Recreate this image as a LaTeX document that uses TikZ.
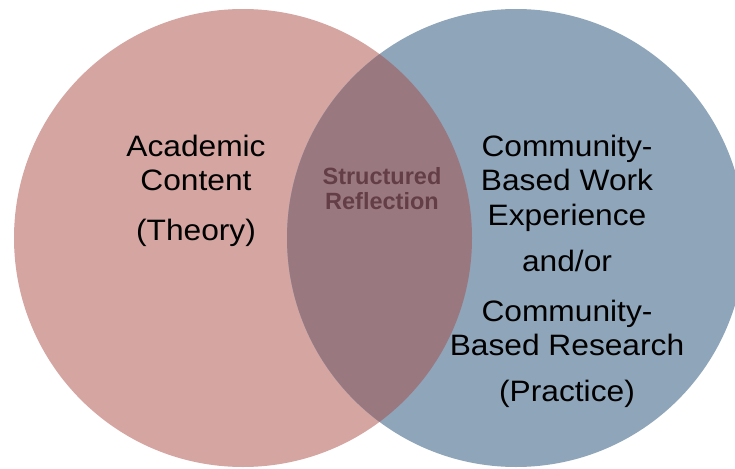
\documentclass[tikz,border=0pt]{standalone}
\usepackage{fontspec}
\setmainfont{Liberation Sans}
\newfontfamily\widefnt[FakeStretch=1.075]{Liberation Sans}
\definecolor{pinkc}{HTML}{D4A5A1}
\definecolor{bluec}{HTML}{8FA5BA}
\definecolor{lensc}{HTML}{9A7880}
\definecolor{refl}{HTML}{643E46}
\tikzset{
  mainlbl/.style={anchor=base, inner sep=0pt, text=black, font=\widefnt\fontsize{29.5}{34.5}\selectfont},
  refllbl/.style={anchor=base, inner sep=0pt, text=refl, font=\bfseries\fontsize{23.5}{25}\selectfont}
}
\begin{document}
\begin{tikzpicture}[x=1pt,y=-1pt]
\useasboundingbox (0,0) rectangle (735,468);
\coordinate (lc) at (243,238);
\coordinate (rc) at (516,238);
\fill[pinkc] (lc) circle[radius=229pt];
\fill[bluec] (rc) circle[radius=229pt];
\begin{scope}
  \clip (lc) circle[radius=229pt];
  \fill[lensc] (rc) circle[radius=229pt];
\end{scope}
% left texts
\node[mainlbl] (l1) at (196,156) {Academic};
\node[mainlbl] (l2) at (196,190.7) {Content};
\node[mainlbl] (l3) at (196,240) {(Theory)};
% overlap
\node[refllbl] (m1) at (382,184) {Structured};
\node[refllbl] (m2) at (382,209) {Reflection};
% right texts
\node[mainlbl] (r1) at (567,156.7) {Community-};
\node[mainlbl] (r2) at (567,190.7) {Based Work};
\node[mainlbl] (r3) at (567,225) {Experience};
\node[mainlbl] (r4) at (567,271.7) {and/or};
\node[mainlbl] (r5) at (567,321.7) {Community-};
\node[mainlbl] (r6) at (567,355) {Based Research};
\node[mainlbl] (r7) at (567,401.7) {(Practice)};
\end{tikzpicture}
\end{document}
